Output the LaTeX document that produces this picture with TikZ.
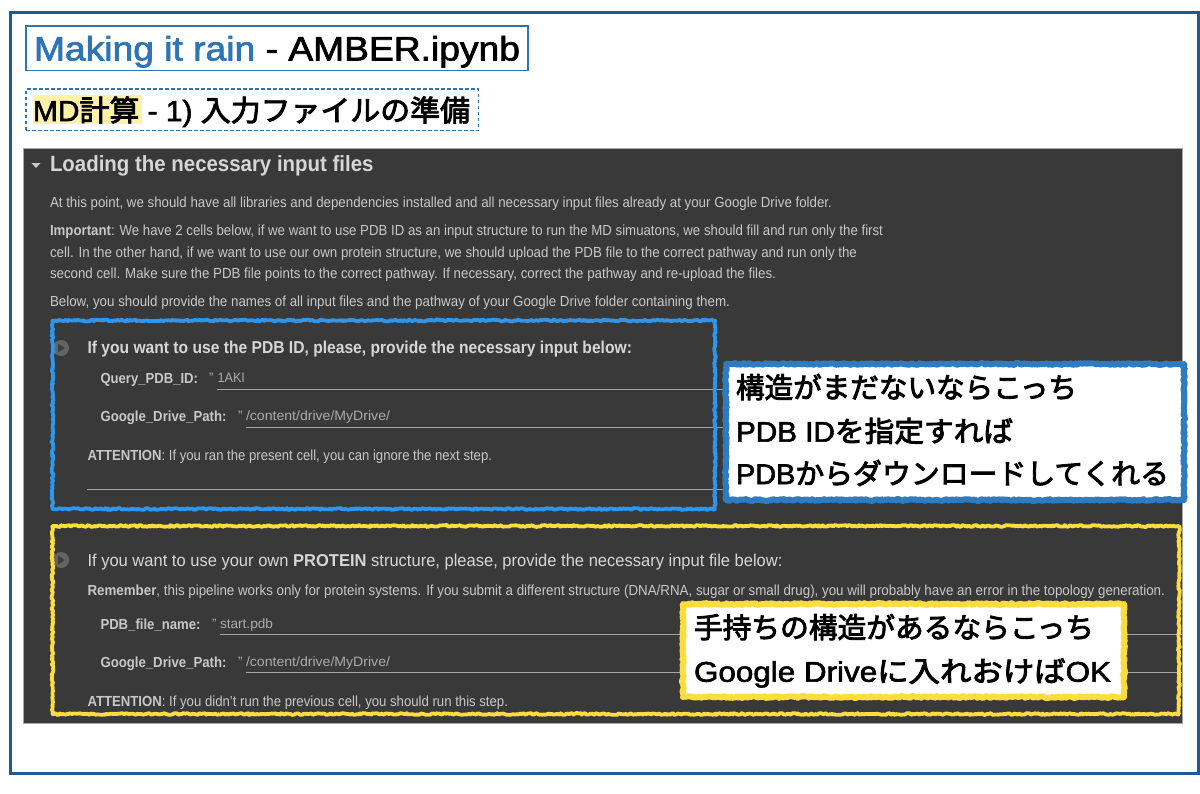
\documentclass[tikz,border=0pt]{standalone}
\usepackage{graphicx}
\usepackage{fontspec}
\usetikzlibrary{decorations.pathmorphing}
\setmainfont{Liberation Sans}
\newfontfamily\jp[FakeBold=3]{Noto Sans CJK JP}
\newfontfamily\la[FakeBold=2]{Liberation Sans}
\definecolor{frameblue}{HTML}{1F5A91}
\definecolor{titleblue}{HTML}{2E75B6}
\definecolor{darkbg}{HTML}{393939}
\definecolor{bodytxt}{HTML}{C8C8C8}
\definecolor{headtxt}{HTML}{D6D6D6}
\definecolor{valtxt}{HTML}{ABABAB}
\definecolor{rule}{HTML}{A6A6A6}
\definecolor{roughblue}{HTML}{2F96EE}
\definecolor{roughyellow}{HTML}{FBDD3F}
\definecolor{callblue}{HTML}{2E7BC0}
\definecolor{marker}{HTML}{FFF2A8}
\definecolor{playc}{HTML}{646464}
\newcommand\fitw[2]{\resizebox{#1pt}{\height}{#2}}
\newcommand\fs[1]{\fontsize{#1}{#1}\selectfont}
\tikzset{
  x=1pt,y=-1pt,
  txt/.style={anchor=base west,inner sep=0pt,outer sep=0pt},
  body/.style={txt,text=bodytxt,font=\fs{14.6}},
  bodyh/.style={txt,text=headtxt,font=\fs{17.2}},
  val/.style={txt,text=valtxt,font=\fs{13.6}},
  big/.style={txt,text=black,font=\fs{28.4}},
  boxn/.style={anchor=north west,inner sep=0pt,outer sep=0pt},
  rough/.style={boxn,decoration={random steps,segment length=1.6pt,amplitude=0.9pt},decorate,draw=#1,line width=3.8pt,line join=round},
  callout/.style={boxn,decoration={random steps,segment length=1.6pt,amplitude=0.9pt},decorate,draw=#1,fill=white,line width=6pt,line join=round},
  inputline/.style={draw=rule,line width=1pt},
  play/.style={circle,fill=playc,minimum size=16pt,inner sep=0pt},
  playtri/.style={fill=darkbg!85!playc}
}
\begin{document}
\begin{tikzpicture}
\pgfmathsetseed{7}
\useasboundingbox (0,0) rectangle (1200,793);
\fill[white] (0,0) rectangle (1200,793);
\node[boxn,draw=frameblue,line width=3pt,minimum width=1188pt,minimum height=760.5pt] (frame) at (10,12.5) {};
% headers
\node[boxn,draw=titleblue,line width=1.5pt,minimum width=502pt,minimum height=44.5pt] (titlebox) at (26,26) {};
\node[txt,font=\fs{34}\la] (title) at (34,60.5) {\fitw{486}{\textcolor{titleblue}{Making it rain}\ - AMBER.ipynb}};
\node[boxn,draw=titleblue,line width=1.4pt,dash pattern=on 3.5pt off 2.5pt,minimum width=452.5pt,minimum height=41.5pt] (subbox) at (26,89) {};
\node[boxn,fill=marker,minimum width=108.5pt,minimum height=29pt] (hl) at (33,95) {};
\node[txt,font=\fs{29}] (sub) at (33,121) {\fitw{437}{{\la MD}{\jp 計算}{\la\ - 1)\ }{\jp 入力ファイルの準備}}};
% dark panel
\node[boxn,fill=darkbg,draw=gray!70,line width=0.5pt,minimum width=1158.3pt,minimum height=575pt] (panel) at (23.7,148) {};
\fill[bodytxt] (31.5,163) -- (40.5,163) -- (36,168) -- cycle;
\node[txt,text=headtxt,font=\fs{22}\bfseries] (h1) at (50,171.5) {\fitw{323.5}{Loading the necessary input files}};
\node[body] (p1) at (50,207) {\fitw{782}{At this point, we should have all libraries and dependencies installed and all necessary input files already at your Google Drive folder.}};
\node[body] (p2) at (50,235.7) {\fitw{833}{\textbf{Important}: We have 2 cells below, if we want to use PDB ID as an input structure to run the MD simuatons, we should fill and run only the first}};
\node[body] (p3) at (50,257) {\fitw{807}{cell. In the other hand, if we want to use our own protein structure, we should upload the PDB file to the correct pathway and run only the}};
\node[body] (p4) at (50,278) {\fitw{726}{second cell. Make sure the PDB file points to the correct pathway. If necessary, correct the pathway and re-upload the files.}};
\node[body] (p5) at (50,306.7) {\fitw{680}{Below, you should provide the names of all input files and the pathway of your Google Drive folder containing them.}};
% first cell
\node[play] (play1) at (61,348) {};
\fill[playtri] (58,343.5) -- (65,348) -- (58,352.5) -- cycle;
\node[bodyh,font=\fs{17.2}\bfseries] (c1t) at (87.5,353.5) {\fitw{544.5}{If you want to use the PDB ID, please, provide the necessary input below:}};
\node[body,font=\fs{14.6}\bfseries] (q1) at (100.5,383) {\fitw{97.5}{Query\_PDB\_ID:}};
\node[val] (q1a) at (209,382) {"};
\node[val] (q1v) at (217.5,382) {\fitw{27.5}{1AKI}};
\coordinate (l1a) at (217,389); \coordinate (l1b) at (725,389);
\draw[inputline] (l1a) -- (l1b);
\node[body,font=\fs{14.6}\bfseries] (g1) at (100.5,421.7) {\fitw{126}{Google\_Drive\_Path:}};
\node[val] (g1a) at (238,420.5) {"};
\node[val] (g1v) at (246,420.5) {\fitw{144}{/content/drive/MyDrive/}};
\coordinate (l2a) at (246,427); \coordinate (l2b) at (725,427);
\draw[inputline] (l2a) -- (l2b);
\node[body] (a1) at (87.5,460) {\fitw{404.5}{\textbf{ATTENTION}: If you ran the present cell, you can ignore the next step.}};
\coordinate (l3a) at (87,489.7); \coordinate (l3b) at (725,489.7);
\draw[inputline] (l3a) -- (l3b);
% second cell
\node[play] (play2) at (61,560) {};
\fill[playtri] (58,555.5) -- (65,560) -- (58,564.5) -- cycle;
\node[bodyh] (c2t) at (87.5,566) {\fitw{695}{If you want to use your own \textbf{PROTEIN} structure, please, provide the necessary input file below:}};
\node[body] (r1) at (87.5,595.7) {\fitw{1077.5}{\textbf{Remember}, this pipeline works only for protein systems. If you submit a different structure (DNA/RNA, sugar or small drug), you will probably have an error in the topology generation.}};
\node[body,font=\fs{14.6}\bfseries] (q2) at (100.5,629) {\fitw{100}{PDB\_file\_name:}};
\node[val] (q2a) at (212,628) {"};
\node[val] (q2v) at (220,628) {\fitw{53}{start.pdb}};
\coordinate (l4a) at (220,634); \coordinate (l4b) at (1182,634);
\draw[inputline] (l4a) -- (l4b);
\node[body,font=\fs{14.6}\bfseries] (g2) at (100.5,667.7) {\fitw{126}{Google\_Drive\_Path:}};
\node[val] (g2a) at (238,666.5) {"};
\node[val] (g2v) at (246,666.5) {\fitw{144}{/content/drive/MyDrive/}};
\coordinate (l5a) at (246,672.7); \coordinate (l5b) at (1182,672.7);
\draw[inputline] (l5a) -- (l5b);
\node[body] (a2) at (87.5,706.7) {\fitw{420.5}{\textbf{ATTENTION}: If you didn't run the previous cell, you should run this step.}};
% rough boxes
\node[rough=roughblue,minimum width=662.5pt,minimum height=188.5pt] (bluebox) at (52.5,320.5) {};
\node[rough=roughyellow,minimum width=1126.5pt,minimum height=188pt] (yellowbox) at (52.5,526) {};
% callouts
\node[callout=callblue,minimum width=458pt,minimum height=136pt] (call1) at (726,364) {};
\node[big] (c1a) at (736,398) {\fitw{341}{\jp 構造がまだないならこっち}};
\node[big] (c1b) at (736,441.7) {\fitw{277}{{\la PDB ID}{\jp を指定すれば}}};
\node[big] (c1c) at (736,484) {\fitw{433}{{\la PDB}{\jp からダウンロードしてくれる}}};
\node[callout=roughyellow,minimum width=441pt,minimum height=93pt] (call2) at (683,604) {};
\node[big] (c2a) at (694,638) {\fitw{400}{\jp 手持ちの構造があるならこっち}};
\node[big] (c2b) at (694,681.7) {\fitw{417}{{\la Google Drive}{\jp に入れおけば}{\la OK}}};
\end{tikzpicture}
\end{document}
